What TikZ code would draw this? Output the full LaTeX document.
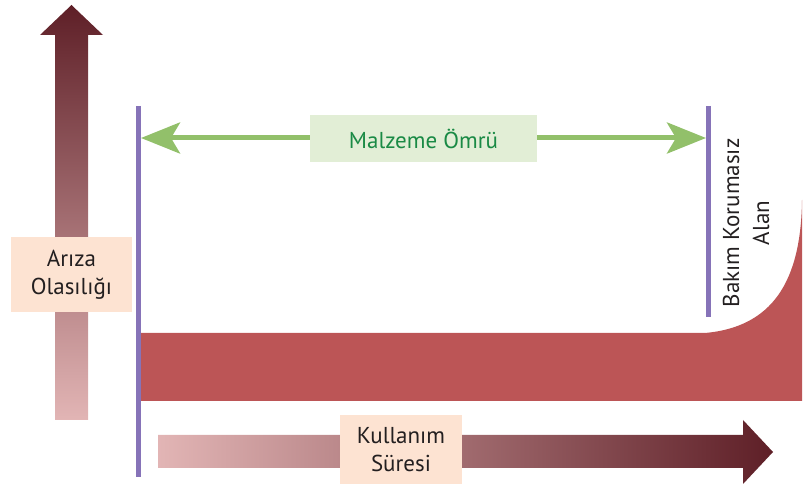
\documentclass[tikz,border=0pt]{standalone}
\usepackage{fontspec}
\setmainfont{PT Sans}
\usetikzlibrary{arrows.meta}

\definecolor{darkmaroon}{HTML}{5E1F27}
\definecolor{palerose}{HTML}{E2B5B5}
\definecolor{peach}{HTML}{FDE3D2}
\definecolor{mintbox}{HTML}{E2EED6}
\definecolor{leafgreen}{HTML}{92C06A}
\definecolor{deepgreen}{HTML}{1A8A45}
\definecolor{lilac}{HTML}{8673B8}
\definecolor{brickred}{HTML}{BC5556}
\definecolor{inkblack}{HTML}{231F20}

\tikzset{
  labelbox/.style={fill=peach, text=inkblack, align=center, inner sep=0pt,
    font=\fontsize{23}{28}\selectfont},
  lifebox/.style={fill=mintbox, text=deepgreen, inner sep=0pt,
    minimum width=227pt, minimum height=47pt, font=\fontsize{23}{28}\selectfont},
  marker/.style={draw=lilac, line width=4.5pt},
  lifearrow/.style={draw=leafgreen, line width=5pt,
    arrows={Stealth[length=39pt,width=31pt,inset=9pt,fill=leafgreen]-Stealth[length=39pt,width=31pt,inset=9pt,fill=leafgreen]}},
  sidenote/.style={text=inkblack, align=center, rotate=90, inner sep=0pt,
    font=\fontsize{23}{30}\selectfont}
}

\begin{document}
\begin{tikzpicture}[x=1pt,y=-1pt]
  \useasboundingbox (0,0) rectangle (807,486);

  % failure-probability band, rising at the end of the service life
  \fill[brickred] (140,333) -- (705,333)
    .. controls (772,327) and (801,282) .. (802,200)
    -- (802,401) -- (140,401) -- cycle;

  % vertical axis arrow (probability of failure)
  \shade[top color=darkmaroon, bottom color=palerose]
    (55,420) -- (55,35) -- (40,35) -- (71.5,5) -- (103,35) -- (88,35)
    -- (88,420) -- cycle;

  % horizontal axis arrow (time in use)
  \shade[left color=palerose, right color=darkmaroon]
    (158,435) -- (743,435) -- (743,420) -- (773,452) -- (743,484)
    -- (743,468) -- (158,468) -- cycle;

  % start and end markers of the material life
  \coordinate (startTop) at (138.5,106);
  \coordinate (startBot) at (138.5,477);
  \coordinate (endTop) at (708.5,106);
  \coordinate (endBot) at (708.5,317);
  \draw[marker] (startTop) -- (startBot);
  \draw[marker] (endTop) -- (endBot);

  % material life span
  \coordinate (lifeL) at (141,138);
  \coordinate (lifeR) at (706,138);
  \draw[lifearrow] (lifeL) -- (lifeR);
  \node[lifebox] (life) at (423.5,138.5) {Malzeme Ömrü};

  % axis labels
  \node[labelbox, minimum width=121pt, minimum height=75pt] (prob)
    at (71.5,274.5) {Arıza\\Olasılığı};
  \node[labelbox, minimum width=122pt, minimum height=69pt] (usage)
    at (401,449.5) {Kullanım\\Süresi};

  % zone without maintenance protection
  \node[sidenote] (zone) at (746,223) {Bakım Korumasız\\Alan};
\end{tikzpicture}
\end{document}
